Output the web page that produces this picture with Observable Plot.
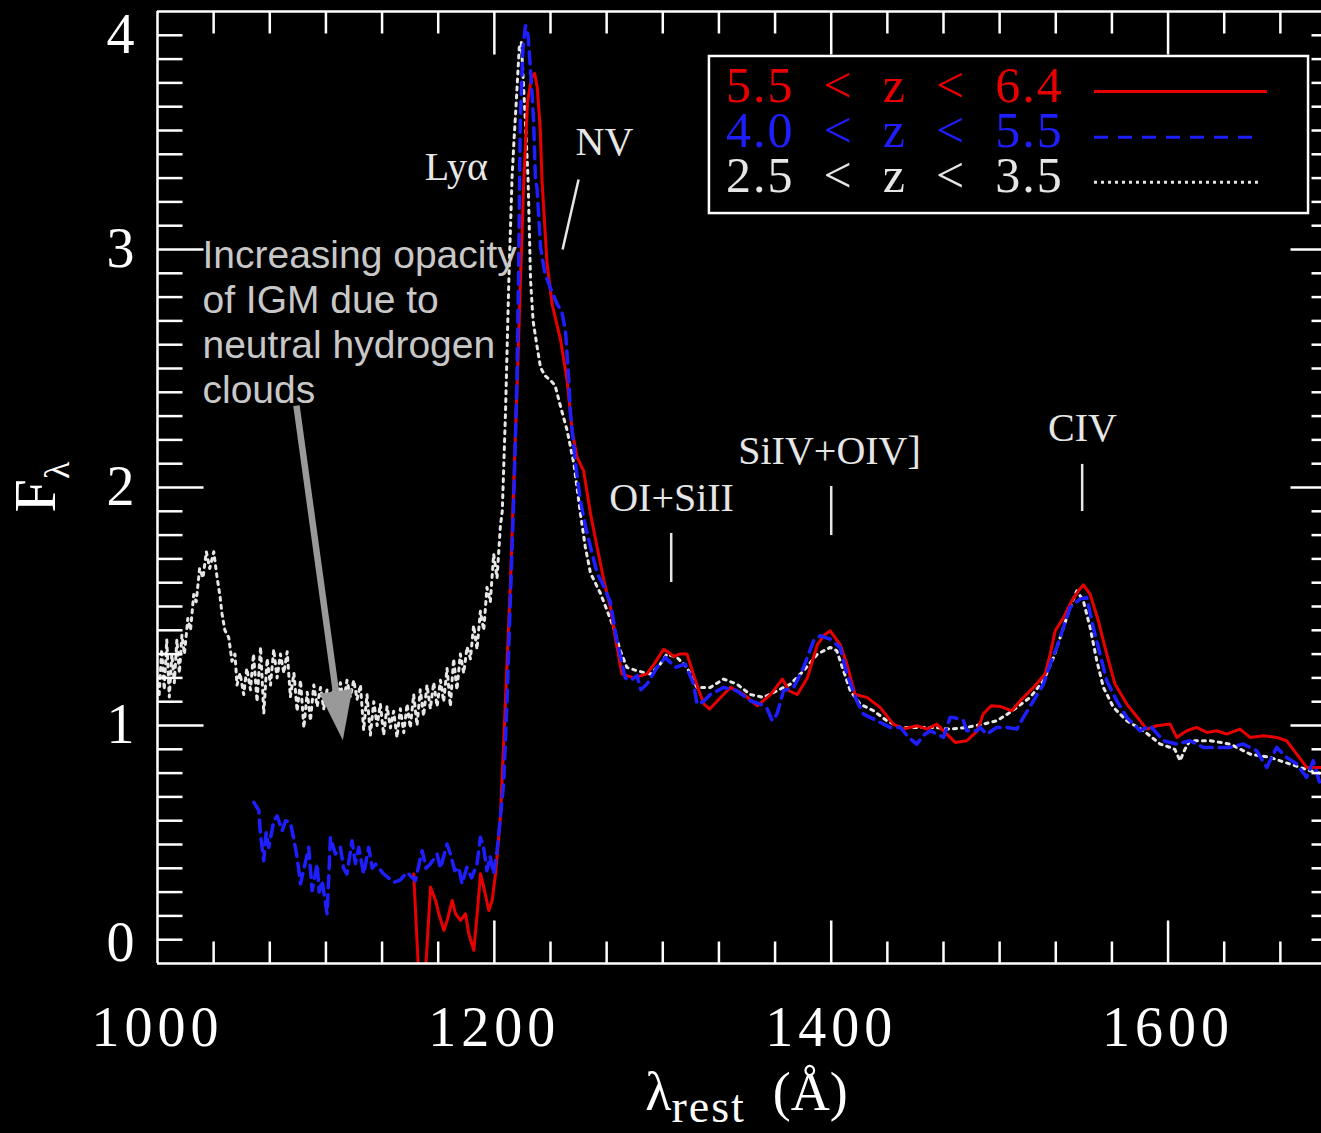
<!DOCTYPE html>
<html>
<head>
<meta charset="utf-8">
<script src="https://cdn.jsdelivr.net/npm/d3@7"></script>
<script src="https://cdn.jsdelivr.net/npm/@observablehq/plot@0.6"></script>
<style>
html, body { margin: 0; padding: 0; background: #000; overflow: hidden; }
#chart svg { display: block; }
.xlab text { letter-spacing: 5px; }
.legtext text { letter-spacing: 2px; }
</style>
</head>
<body>
<div id="chart"></div>
<script>
// ---------- data ----------
const seriesNames = ["5.5 < z < 6.4", "4.0 < z < 5.5", "2.5 < z < 3.5"];

const redLambda = [1152.1,1155.1,1159.0,1162.1,1165.1,1167.0,1170.0,1172.0,1175.0,1176.9,1179.9,1182.9,1184.8,1187.8,1189.8,1191.8,1193.7,1196.7,1198.7,1200.7,1203.6,1206.6,1209.6,1211.6,1213.6,1215.5,1217.5,1219.7,1222.0,1223.9,1225.5,1227.3,1228.3,1231.3,1234.3,1239.3,1243.2,1246.1,1249.0,1253.0,1257.1,1261.0,1265.0,1268.8,1272.0,1275.7,1282.7,1290.6,1295.0,1300.5,1303.0,1306.5,1310.0,1314.4,1318.0,1321.4,1324.5,1327.9,1333.3,1340.2,1348.2,1356.1,1364.0,1371.0,1374.9,1379.9,1385.8,1391.8,1396.0,1399.4,1405.3,1409.3,1414.2,1421.2,1429.0,1436.9,1442.9,1450.8,1456.8,1462.7,1468.7,1473.6,1480.5,1486.5,1490.4,1495.0,1500.3,1507.2,1513.2,1520.1,1527.0,1530.0,1533.0,1537.9,1542.8,1546.8,1549.7,1553.7,1558.6,1563.6,1568.5,1575.5,1583.4,1587.3,1593.3,1601.2,1605.1,1611.1,1617.0,1623.0,1628.9,1634.8,1642.7,1648.7,1656.6,1664.5,1670.4,1676.4,1682.3,1690.2,1700.0];
const redFlux = [0.376,-0.05,-0.05,0.321,0.265,0.209,0.139,0.181,0.265,0.209,0.181,0.209,0.125,0.055,0.209,0.377,0.321,0.223,0.265,0.377,0.615,1.105,1.61,2.03,2.45,2.87,3.29,3.62,3.72,3.74,3.68,3.50,3.29,2.94,2.77,2.62,2.45,2.24,2.13,2.07,1.89,1.75,1.61,1.50,1.36,1.217,1.20,1.217,1.26,1.32,1.31,1.29,1.30,1.30,1.22,1.146,1.09,1.069,1.11,1.16,1.13,1.083,1.13,1.195,1.146,1.13,1.20,1.34,1.38,1.398,1.34,1.258,1.13,1.118,1.076,1.006,0.985,0.999,0.985,1.006,0.964,0.929,0.936,0.975,1.05,1.083,1.08,1.062,1.111,1.16,1.216,1.30,1.398,1.453,1.524,1.566,1.591,1.552,1.44,1.30,1.174,1.09,1.02,0.985,0.999,1.006,0.95,0.978,0.992,0.971,0.978,0.964,0.985,0.95,0.957,0.95,0.936,0.88,0.824,0.824,0.80];

const blueLambda = [1057.2,1060.2,1061.1,1063.1,1064.5,1066.1,1069.1,1071.0,1074.0,1076.0,1078.9,1081.0,1082.9,1084.9,1087.0,1089.8,1091.8,1094.8,1096.0,1097.7,1100.7,1102.7,1105.6,1108.6,1110.5,1112.5,1115.5,1117.5,1119.5,1122.4,1125.4,1127.5,1129.4,1134.3,1140.3,1144.0,1148.2,1153.1,1157.1,1159.5,1162.0,1166.0,1168.0,1171.9,1173.9,1176.5,1178.8,1180.8,1183.7,1186.5,1189.7,1191.7,1193.6,1195.6,1197.5,1199.6,1201.6,1203.6,1205.5,1207.5,1209.6,1211.6,1213.4,1214.4,1215.4,1217.0,1218.5,1220.0,1222.0,1223.3,1224.4,1225.3,1227.4,1230.0,1233.2,1237.3,1240.0,1242.2,1244.2,1245.2,1248.2,1251.1,1254.0,1257.1,1261.0,1264.0,1267.0,1268.8,1272.8,1277.7,1281.0,1284.7,1287.0,1290.6,1296.6,1301.5,1307.4,1313.4,1318.3,1320.3,1324.0,1328.2,1336.1,1344.0,1352.0,1357.9,1362.0,1365.0,1367.8,1371.7,1377.7,1383.6,1389.5,1393.6,1399.4,1405.3,1409.3,1415.2,1419.2,1427.1,1435.0,1441.0,1446.0,1450.8,1455.0,1458.8,1466.7,1470.6,1472.7,1478.5,1480.5,1486.5,1488.4,1492.4,1498.3,1504.3,1510.2,1514.1,1520.1,1526.0,1530.0,1533.9,1537.9,1541.8,1547.7,1551.7,1555.6,1559.6,1563.6,1569.5,1575.5,1583.4,1589.3,1597.2,1605.1,1613.0,1620.9,1628.9,1636.8,1644.7,1652.6,1658.6,1664.5,1670.4,1676.4,1682.3,1686.2,1690.2,1695.0,1700.0];
const blueFlux = [0.677,0.642,0.544,0.432,0.55,0.488,0.60,0.62,0.558,0.60,0.593,0.52,0.446,0.335,0.40,0.488,0.306,0.418,0.30,0.348,0.209,0.53,0.46,0.488,0.40,0.376,0.516,0.42,0.488,0.376,0.488,0.40,0.418,0.376,0.341,0.35,0.383,0.348,0.474,0.40,0.418,0.46,0.40,0.502,0.46,0.39,0.404,0.335,0.404,0.36,0.418,0.53,0.488,0.39,0.45,0.376,0.474,0.614,0.754,1.10,1.55,1.97,2.45,2.90,3.54,3.85,3.94,3.90,3.70,3.54,3.29,3.26,3.01,2.90,2.84,2.77,2.74,2.66,2.45,2.31,2.10,1.945,1.84,1.75,1.64,1.60,1.55,1.52,1.355,1.20,1.19,1.21,1.15,1.174,1.244,1.286,1.244,1.258,1.174,1.09,1.10,1.13,1.16,1.146,1.104,1.09,1.07,1.02,1.048,1.146,1.16,1.244,1.356,1.377,1.363,1.328,1.216,1.104,1.048,1.02,0.992,0.992,0.95,0.922,0.96,0.978,0.95,1.034,1.034,1.02,0.978,0.978,0.992,0.964,0.992,0.992,0.985,1.034,1.104,1.174,1.258,1.328,1.412,1.496,1.531,1.538,1.412,1.30,1.188,1.104,1.034,0.978,0.999,0.936,0.922,0.936,0.908,0.908,0.908,0.922,0.894,0.824,0.908,0.866,0.838,0.782,0.852,0.754,0.80,0.76];

const whiteLambda = [1001.0,1002.5,1004.0,1005.5,1007.0,1008.5,1010.0,1011.5,1013.0,1014.5,1016.0,1018.0,1019.6,1021.5,1023.0,1025.0,1027.0,1029.0,1031.0,1033.4,1035.4,1037.0,1038.3,1040.0,1042.3,1044.2,1046.0,1047.2,1049.0,1051.2,1053.0,1055.2,1057.0,1059.1,1061.2,1063.1,1065.1,1067.1,1069.0,1071.0,1073.0,1075.0,1077.0,1078.9,1081.0,1082.9,1084.9,1086.9,1088.9,1090.8,1092.8,1094.8,1096.8,1098.7,1100.7,1102.7,1104.7,1106.6,1108.6,1110.6,1112.5,1114.5,1116.5,1118.5,1120.5,1122.4,1124.4,1126.4,1128.4,1130.4,1132.3,1134.3,1136.3,1138.3,1140.2,1142.2,1144.2,1146.2,1148.2,1150.1,1152.1,1154.1,1156.0,1158.0,1160.0,1162.0,1164.0,1166.0,1168.0,1169.9,1171.9,1173.9,1175.8,1177.8,1179.8,1181.8,1183.8,1185.8,1187.7,1189.7,1191.7,1193.7,1195.6,1197.6,1199.6,1201.6,1203.6,1204.7,1206.6,1208.6,1210.5,1211.6,1213.0,1214.8,1216.0,1218.4,1220.0,1221.5,1223.0,1225.4,1227.4,1230.0,1233.3,1236.0,1239.3,1243.2,1247.2,1251.1,1254.0,1257.1,1263.0,1266.0,1270.8,1274.8,1278.7,1284.7,1292.6,1298.5,1302.5,1308.4,1314.4,1320.3,1328.2,1336.1,1344.0,1352.0,1359.9,1367.8,1375.8,1383.6,1391.8,1399.4,1403.3,1407.3,1411.3,1417.2,1425.1,1433.0,1441.0,1450.8,1460.7,1470.6,1480.5,1490.4,1498.3,1506.2,1518.1,1526.0,1532.0,1537.9,1541.8,1545.8,1549.7,1553.7,1557.7,1561.6,1567.6,1575.5,1585.4,1595.3,1601.2,1604.0,1607.1,1610.0,1613.0,1624.9,1636.8,1648.7,1660.5,1672.4,1684.3,1690.0];
const whiteFlux = [1.13,1.32,1.15,1.36,1.12,1.30,1.18,1.36,1.22,1.38,1.30,1.45,1.40,1.55,1.52,1.66,1.62,1.73,1.66,1.73,1.62,1.55,1.47,1.40,1.37,1.27,1.30,1.17,1.22,1.13,1.24,1.15,1.30,1.10,1.33,1.05,1.28,1.17,1.32,1.20,1.30,1.22,1.31,1.12,1.22,1.06,1.19,0.99,1.14,1.02,1.17,1.08,1.16,1.07,1.15,1.08,1.16,1.10,1.18,1.10,1.19,1.12,1.19,1.11,1.17,0.98,1.13,0.96,1.10,1.00,1.09,0.96,1.08,0.99,1.06,0.95,1.07,0.97,1.09,0.99,1.13,1.00,1.15,1.04,1.17,1.07,1.18,1.08,1.19,1.10,1.24,1.08,1.28,1.15,1.30,1.22,1.33,1.28,1.42,1.32,1.48,1.40,1.58,1.52,1.72,1.62,1.84,1.90,2.31,2.87,3.30,3.45,3.62,3.85,3.87,3.54,3.30,2.87,2.70,2.59,2.505,2.47,2.45,2.43,2.34,2.24,2.10,1.89,1.75,1.64,1.555,1.50,1.412,1.314,1.244,1.23,1.216,1.258,1.30,1.286,1.244,1.16,1.16,1.195,1.174,1.13,1.118,1.146,1.174,1.23,1.30,1.328,1.314,1.23,1.146,1.09,1.062,1.02,0.992,0.992,0.992,0.985,0.992,1.006,1.02,1.055,1.118,1.188,1.286,1.412,1.496,1.566,1.524,1.412,1.272,1.16,1.076,1.02,0.978,0.922,0.908,0.90,0.852,0.90,0.936,0.936,0.922,0.88,0.866,0.838,0.81,0.80];

// emission-line annotations: name, line wavelength
const lineNames = ["Ly\u03b1", "NV", "OI+SiII", "SiIV+OIV]", "CIV"];
const lineLambda = [1216, 1240, 1305, 1400, 1549];

// axis ticks
const xTickValues = [1000, 1200, 1400, 1600];
const yTickValues = [0, 1, 2, 3, 4];

const annotationText = "Increasing opacity\nof IGM due to\nneutral hydrogen\nclouds";

// ---------- build tables ----------
const RED = "#e80000", BLUE = "#1e1eff", WHITE = "#e6e6e6";
const table = (L, F) => L.map((l, i) => ({lambda: l, flux: F[i]}));
const red = table(redLambda, redFlux);
const blue = table(blueLambda, blueFlux);
const white = table(whiteLambda, whiteFlux);

// minor ticks
const xMinor = [];
for (let i = 0; i <= 21; i++) xMinor.push(1000 + i * 200 / 6);
const xMinorOnly = xMinor.filter(v => !xTickValues.some(m => Math.abs(m - v) < 1e-6) && v > 1000.1);
const xMajorInner = xTickValues.filter(v => v > 1000);
const yMinor = [];
for (let i = 1; i < 40; i++) if (i % 10 !== 0) yMinor.push(i / 10);
const yMajorInner = yTickValues.filter(v => v > 0 && v < 4);

const tickShape = {draw(ctx, l) { ctx.moveTo(0, 0); ctx.lineTo(0, -l); }};
const tick = (data, opts) => Plot.vector(data, {anchor: "start", shape: tickShape, stroke: "white", strokeWidth: 2.5, fill: "none", strokeLinecap: "butt", ...opts});

const headSymbol = {draw(ctx, size) {
  const r = Math.sqrt(size / Math.PI);
  ctx.moveTo(0, -2 * r); ctx.lineTo(r, r); ctx.lineTo(-r, r); ctx.closePath();
}};

const serif = "Liberation Serif";

const chart = Plot.plot({
  width: 1321,
  height: 1133,
  marginLeft: 157,
  marginRight: 0,
  marginTop: 11,
  marginBottom: 170,
  style: {background: "#000", color: "white"},
  x: {domain: [1000, 1700], range: [157, 1336], axis: null},
  y: {domain: [0, 4], range: [963, 11], axis: null},
  marks: [
    // spectra
    Plot.line(white, {x: "lambda", y: "flux", stroke: WHITE, strokeWidth: 3, strokeDasharray: "3,5", clip: true}),
    Plot.line(red, {x: "lambda", y: "flux", stroke: RED, strokeWidth: 3, clip: true}),
    Plot.line(blue, {x: "lambda", y: "flux", stroke: BLUE, strokeWidth: 3.5, strokeDasharray: "12,7", clip: true}),

    // frame
    Plot.ruleY([0, 4], {stroke: "white", strokeWidth: 2.5}),
    Plot.ruleX([1000, 1700], {stroke: "white", strokeWidth: 2.5}),

    // ticks (inward)
    tick(xMinorOnly, {x: d => d, y: 0, length: 22, rotate: 0}),
    tick(xMajorInner, {x: d => d, y: 0, length: 43, rotate: 0}),
    tick(xMinorOnly, {x: d => d, y: 4, length: 22, rotate: 180}),
    tick(xMajorInner, {x: d => d, y: 4, length: 43, rotate: 180}),
    tick(yMinor, {x: 1000, y: d => d, length: 25, rotate: 90}),
    tick(yMajorInner, {x: 1000, y: d => d, length: 46, rotate: 90}),
    tick(yMinor, {x: 1700, y: d => d, length: 25, rotate: 270}),
    tick(yMajorInner, {x: 1700, y: d => d, length: 46, rotate: 270}),

    // tick labels
    Plot.text(xTickValues, {x: d => d, y: 0, dy: 65, text: d => String(d), fill: "white", fontSize: 56, fontFamily: serif, className: "xlab"}),
    Plot.text(yMajorInner, {x: 1000, y: d => d, dx: -37, text: d => String(d), fill: "white", fontSize: 56, fontFamily: serif}),
    Plot.text([4], {x: 1000, y: d => d, dx: -37, dy: 24, text: d => String(d), fill: "white", fontSize: 56, fontFamily: serif}),
    Plot.text([0], {x: 1000, y: d => d, dx: -37, dy: -20, text: d => String(d), fill: "white", fontSize: 56, fontFamily: serif}),

    // emission-line markers
    Plot.link([lineLambda[1]], {x1: d => d + 10, y1: 3.294, x2: d => d + 0.5, y2: 3.0, stroke: WHITE, strokeWidth: 2.5}),
    Plot.ruleX(lineLambda.slice(2), {x: d => d, y1: (d, i) => [1.601, 1.798, 1.899][i], y2: (d, i) => [1.807, 2.004, 2.097][i], stroke: WHITE, strokeWidth: 2.5}),
    Plot.text(lineNames, {
      x: (d, i) => lineLambda[i] + [-38.5, 25.4, 0.2, -1, 0.2][i],
      y: (d, i) => [3.345, 3.45, 1.954, 2.151, 2.248][i],
      text: d => d, fill: WHITE, fontSize: 40, fontFamily: serif
    }),

    // IGM annotation
    Plot.text([annotationText], {x: 1026.7, y: 3.059, text: d => d, textAnchor: "start", lineAnchor: "top", lineHeight: 1.16, fill: "#c8c8c8", fontSize: 39, fontFamily: "Liberation Sans"}),
    Plot.link([0], {x1: 1082.5, y1: 2.344, x2: 1105.9, y2: 1.143, stroke: "#999", strokeWidth: 6.5}),
    Plot.dot([0], {x: 1107.3, y: 1.075, symbol: headSymbol, r: 16.5, rotate: 172, fill: "#999", stroke: "none"}),

    // legend
    Plot.rect([0], {x1: 1327.7, x2: 1683.4, y1: 3.151, y2: 3.811, stroke: "white", strokeWidth: 2.5, fill: "#000"}),
    Plot.text(seriesNames, {
      x: 1337.6, y: (d, i) => 3.688 - i * 0.19,
      text: d => d.replace(/ /g, "\u00a0\u00a0"),
      fill: (d, i) => [RED, BLUE, WHITE][i],
      textAnchor: "start", fontSize: 50, fontFamily: serif, className: "legtext"
    }),
    Plot.ruleY([3.664], {x1: 1556.3, x2: 1659, stroke: RED, strokeWidth: 3}),
    Plot.ruleY([3.472], {x1: 1556.3, x2: 1652.5, stroke: BLUE, strokeWidth: 3, strokeDasharray: "14,10"}),
    Plot.ruleY([3.283], {x1: 1556.3, x2: 1656, stroke: WHITE, strokeWidth: 3, strokeDasharray: "3,4"})
  ]
});

// axis titles with subscripts
const svg = d3.select(chart);
const xs = chart.scale("x"), ys = chart.scale("y");
const xt = svg.append("text")
  .attr("x", xs.apply(1350)).attr("y", 1110)
  .attr("text-anchor", "middle").attr("font-family", serif)
  .attr("font-size", 54).attr("fill", "white");
xt.append("tspan").text("\u03bb");
xt.append("tspan").attr("font-size", 46).attr("dy", 12).attr("letter-spacing", 2).text("rest");
xt.append("tspan").attr("dy", -12).text("\u00a0\u00a0(\u00c5)");

const yt = svg.append("text")
  .attr("transform", `translate(55,${ys.apply(2)}) rotate(-90)`)
  .attr("text-anchor", "middle").attr("font-family", serif)
  .attr("font-size", 60).attr("fill", "white");
yt.append("tspan").text("F");
yt.append("tspan").attr("font-size", 36).attr("dy", 14).text("\u03bb");

document.getElementById("chart").appendChild(chart);
</script>
</body>
</html>
